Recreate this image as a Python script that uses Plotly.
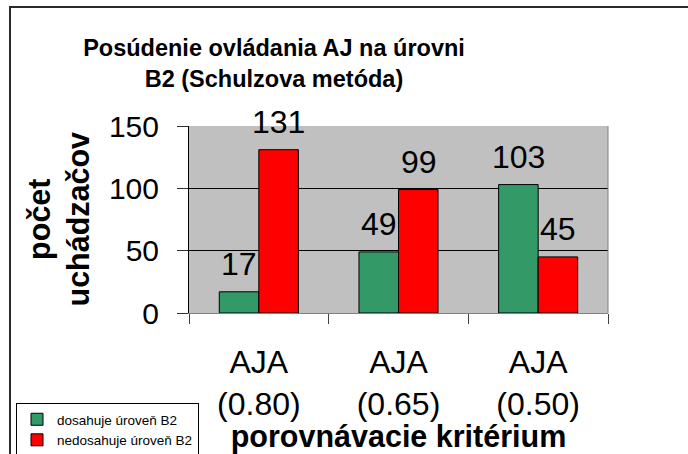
import plotly.graph_objects as go

categories = ["AJA<br>(0.80)", "AJA<br>(0.65)", "AJA<br>(0.50)"]
reached = [17, 49, 103]
not_reached = [131, 99, 45]
series_names = ["dosahuje úroveň B2", "nedosahuje úroveň B2"]
y_ticks = [0, 50, 100, 150]

FONT = "Arial, 'Liberation Sans', sans-serif"
GREEN = "#339966"
RED = "#FF0000"

fig = go.Figure()
fig.add_trace(go.Bar(x=categories, y=reached, name=series_names[0],
                     marker=dict(color=GREEN, line=dict(color="black", width=1))))
fig.add_trace(go.Bar(x=categories, y=not_reached, name=series_names[1],
                     marker=dict(color=RED, line=dict(color="black", width=1))))

# data labels above each bar
for vals, shift in ((reached, -20), (not_reached, 20)):
    for c, v in zip(categories, vals):
        fig.add_annotation(x=c, y=v, text=str(v), showarrow=False,
                           xref="x", yref="y", xanchor="center", yanchor="bottom",
                           xshift=shift, yshift=8,
                           font=dict(family=FONT, size=32, color="black"))

W, H = 688, 454
L, R, T, B = 189, 80, 126, 141
pw, ph = W - L - R, H - T - B

def px_x(X):
    return (X - L) / pw

def px_y(Y):
    return (H - B - Y) / ph

# outer chart frame (top and left edges visible)
fig.add_shape(type="rect", xref="paper", yref="paper",
              x0=px_x(10), x1=px_x(720), y0=px_y(490), y1=px_y(7),
              line=dict(color="#2a2a2a", width=2), fillcolor="rgba(0,0,0,0)")
# right edge of plot area
fig.add_shape(type="line", xref="paper", yref="paper",
              x0=1, x1=1, y0=0, y1=1, line=dict(color="#808080", width=1))

# y-axis title (two lines, rotated)
fig.add_annotation(text="počet<br>uchádzačov", textangle=-90, showarrow=False,
                   xref="paper", yref="paper", x=px_x(58), y=0.5,
                   xanchor="center", yanchor="middle",
                   font=dict(family=FONT, size=30.5, weight="bold", color="black"))

fig.update_layout(
    width=W, height=H,
    margin=dict(l=L, r=R, t=T, b=B, autoexpand=False),
    paper_bgcolor="white",
    plot_bgcolor="#C0C0C0",
    barmode="group", bargap=0.434, bargroupgap=0,
    font=dict(family=FONT, color="black"),
    title=dict(text="Posúdenie ovládania AJ na úrovni<br>B2 (Schulzova metóda)",
               x=274 / W, xanchor="center", xref="container",
               y=1 - 56 / H, yanchor="top", yref="container",
               font=dict(family=FONT, size=23.5, weight="bold", color="black")),
    showlegend=True,
    legend=dict(x=16 / W, y=1 - 403 / H, xref="container", yref="container",
                xanchor="left", yanchor="top",
                bgcolor="white", bordercolor="black", borderwidth=1,
                font=dict(family=FONT, size=13.5, color="black"),
                itemwidth=30, tracegroupgap=0),
    xaxis=dict(type="category",
               showline=True, linecolor="#808080", linewidth=1,
               ticks="outside", ticklen=10, tickcolor="#404040", tickson="boundaries",
               ticklabelstandoff=21,
               tickfont=dict(family=FONT, size=32, color="black"),
               showgrid=False,
               title=dict(text="porovnávacie kritérium", standoff=12,
                          font=dict(family=FONT, size=30.5, weight="bold", color="black"))),
    yaxis=dict(range=[0, 150], tickvals=y_ticks,
               showline=True, linecolor="black", linewidth=1,
               ticks="outside", ticklen=11, tickcolor="#303030",
               ticklabelstandoff=12,
               tickfont=dict(family=FONT, size=30, color="black"),
               showgrid=True, gridcolor="black", gridwidth=1, zeroline=False),
)

fig.write_html("out.html", config={"displayModeBar": False},
               post_script="document.body.style.margin='0';document.body.style.overflow='hidden';")
